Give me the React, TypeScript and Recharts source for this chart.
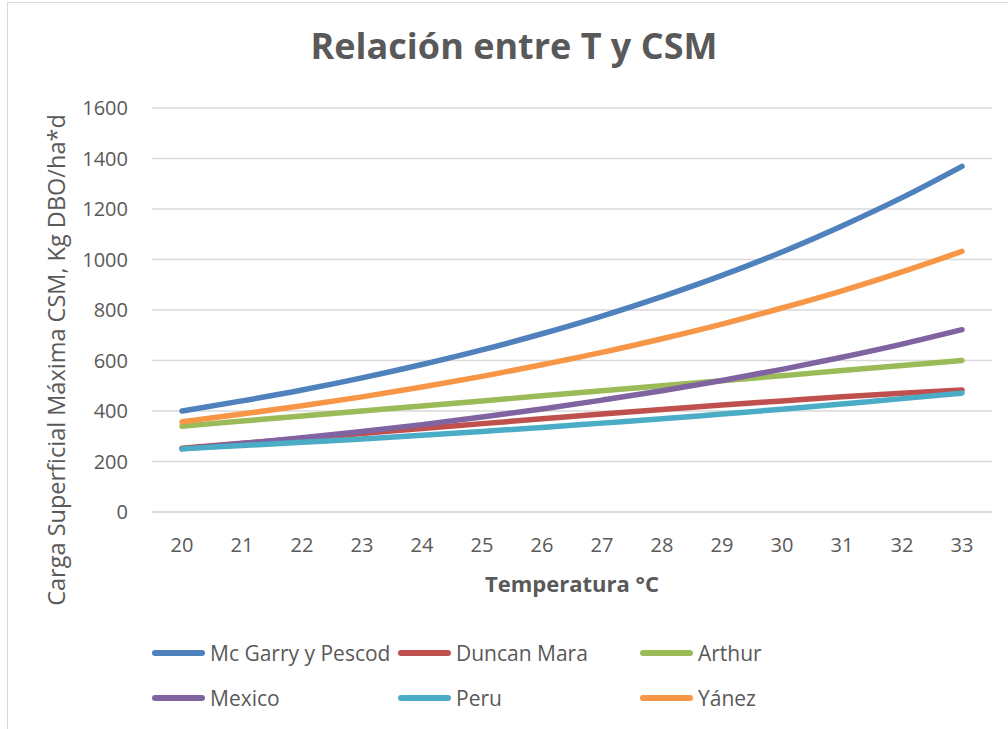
import React from 'react';
import { LineChart, Line, XAxis, YAxis, CartesianGrid } from 'recharts';

const temps = [20, 21, 22, 23, 24, 25, 26, 27, 28, 29, 30, 31, 32, 33];
const mcGarry = [400, 440, 483, 531, 584, 642, 706, 776, 853, 937, 1030, 1133, 1245, 1369];
const duncanMara = [253, 272, 291, 311, 331, 350, 369, 388, 406, 424, 440, 456, 470, 483];
const arthur = [340, 360, 380, 400, 420, 440, 460, 480, 500, 520, 540, 560, 580, 600];
const mexico = [250, 271, 294, 319, 346, 376, 408, 443, 480, 521, 565, 613, 665, 722];
const peru = [250, 263, 276, 289, 304, 319, 335, 352, 369, 388, 407, 428, 449, 471];
const yanez = [357, 388, 421, 456, 495, 537, 583, 632, 686, 744, 808, 876, 951, 1032];
const yTicks = [0, 200, 400, 600, 800, 1000, 1200, 1400, 1600];

const series = [
    { key: 'mcGarry', name: 'Mc Garry y Pescod', color: '#4F81BD', values: mcGarry },
    { key: 'duncanMara', name: 'Duncan Mara', color: '#C0504D', values: duncanMara },
    { key: 'arthur', name: 'Arthur', color: '#9BBB59', values: arthur },
    { key: 'mexico', name: 'Mexico', color: '#8064A2', values: mexico },
    { key: 'peru', name: 'Peru', color: '#4BACC6', values: peru },
    { key: 'yanez', name: 'Yánez', color: '#F79646', values: yanez },
];

const data = temps.map((t, i) => {
    const row: Record<string, number> = { t };
    series.forEach((s) => { row[s.key] = s.values[i]; });
    return row;
});

const FONT = '"Open Sans", sans-serif';
const GREY = '#595959';

// rotated axis title, baseline on the right side
const YTitle = () => (
    <text
        x={65}
        y={360}
        transform="rotate(-90 65 360)"
        textAnchor="middle"
        fill={GREY}
        fontSize={23.5}
        fontFamily={FONT}
    >
        Carga Superficial Máxima CSM, Kg DBO/ha*d
    </text>
);

export default function App() {
    return (
        <div style={{ position: 'absolute', left: 0, top: 0, width: 1008, height: 729, overflow: 'hidden', background: '#fff', fontFamily: FONT }}>
            <div style={{ position: 'absolute', left: 7, top: 2, width: 1030, height: 760, border: '1px solid #d9d9d9' }} />
            <div style={{ position: 'absolute', left: 0, top: 21, width: 1028, textAlign: 'center', fontSize: 36, fontWeight: 700, color: GREY }}>
                Relación entre T y CSM
            </div>
            <div style={{ position: 'absolute', left: 0, top: 0 }}>
                <LineChart width={1008} height={612} data={data} margin={{ top: 108, right: 16, left: 0, bottom: 0 }}>
                    <CartesianGrid vertical={false} stroke="#d9d9d9" strokeWidth={1.3} />
                    <XAxis
                        dataKey="t"
                        height={100}
                        padding={{ left: 30, right: 30 }}
                        tickSize={0}
                        tickMargin={26}
                        axisLine={{ stroke: '#d9d9d9', strokeWidth: 1.3 }}
                        tick={{ fill: GREY, fontSize: 20, fontFamily: FONT }}
                        label={{ value: 'Temperatura °C', position: 'insideBottom', offset: 20, fill: GREY, fontSize: 22, fontWeight: 700, fontFamily: FONT }}
                    />
                    <YAxis
                        width={152}
                        domain={[0, 1600]}
                        ticks={yTicks}
                        tickSize={0}
                        tickMargin={24}
                        axisLine={false}
                        tick={{ fill: GREY, fontSize: 20, fontFamily: FONT }}
                        label={<YTitle />}
                    />
                    {series.map((s) => (
                        <Line
                            key={s.key}
                            type="monotone"
                            dataKey={s.key}
                            name={s.name}
                            stroke={s.color}
                            strokeWidth={5.5}
                            strokeLinecap="round"
                            dot={false}
                            activeDot={false}
                            isAnimationActive={false}
                        />
                    ))}
                </LineChart>
            </div>
            <div style={{ position: 'absolute', left: 152, top: 638, width: 760, display: 'grid', gridTemplateColumns: '246px 242px 246px', rowGap: 15 }}>
                {series.map((s) => (
                    <div key={s.key} style={{ display: 'flex', alignItems: 'center', height: 30, fontSize: 21, color: GREY }}>
                        <span style={{ display: 'inline-block', width: 53, height: 5.5, borderRadius: 3, background: s.color, marginRight: 5 }} />
                        {s.name}
                    </div>
                ))}
            </div>
        </div>
    );
}
